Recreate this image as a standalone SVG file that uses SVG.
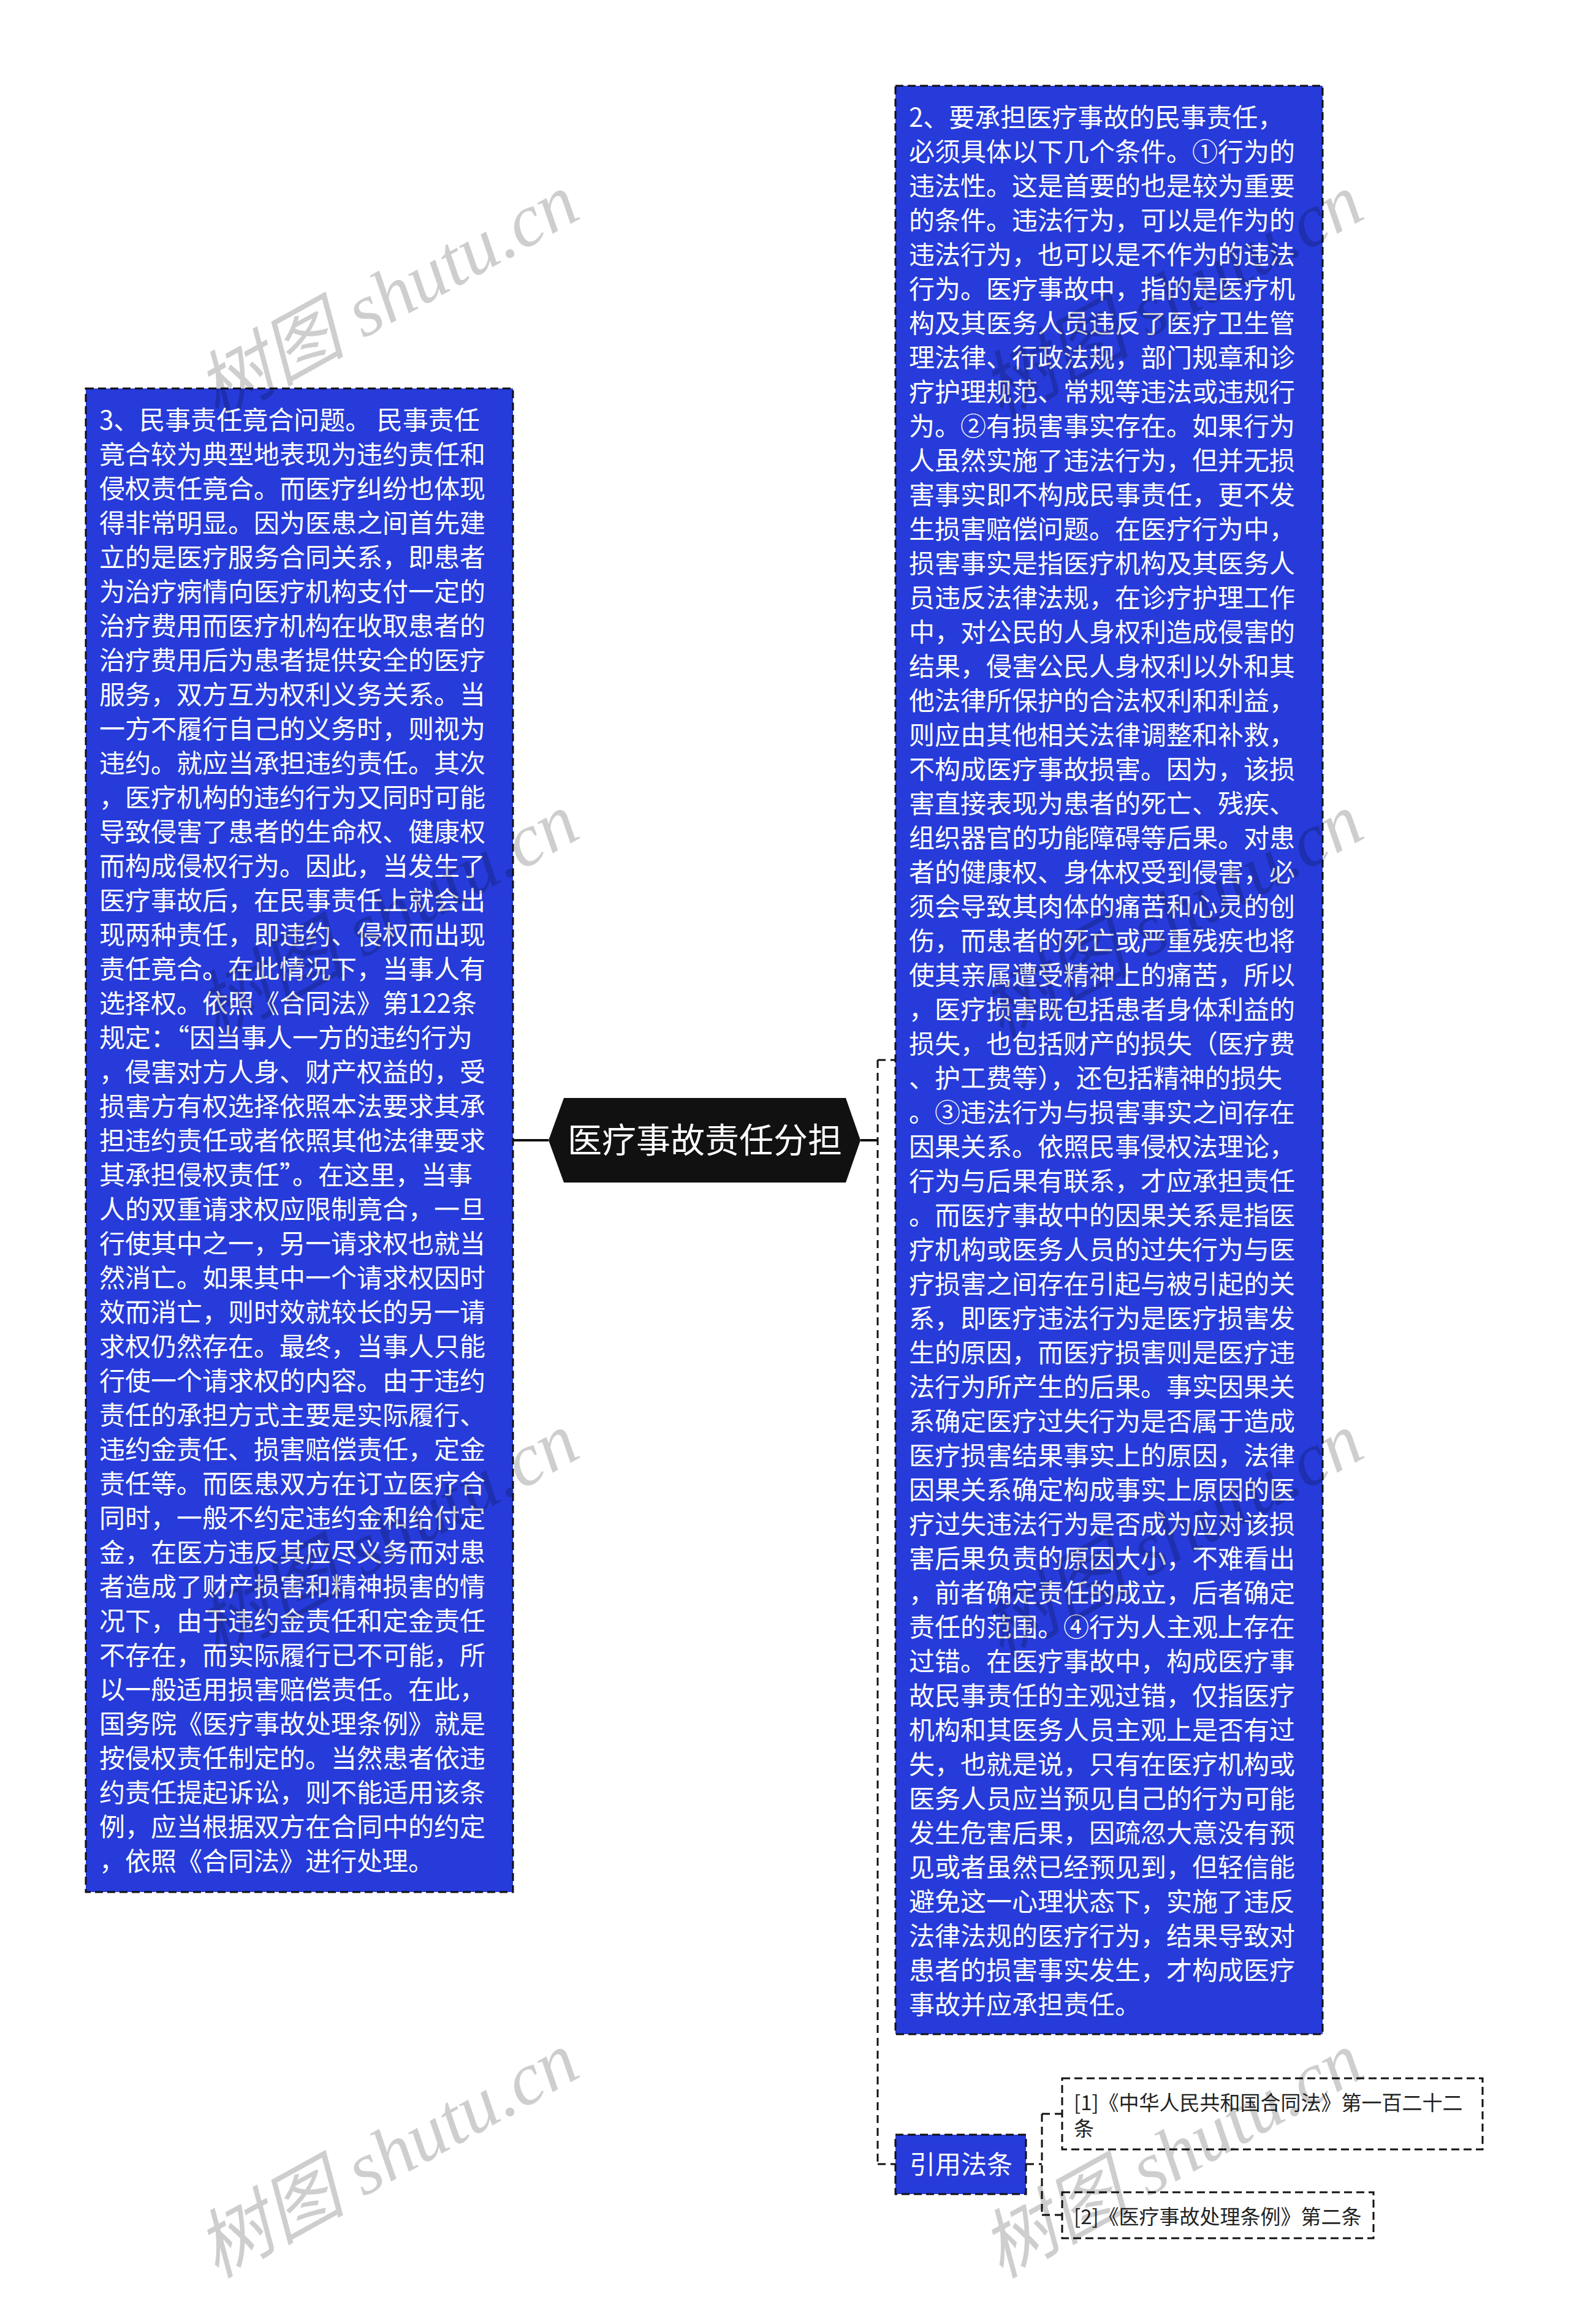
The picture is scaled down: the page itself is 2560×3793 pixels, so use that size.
<svg xmlns="http://www.w3.org/2000/svg" width="2560" height="3793" viewBox="0 0 2560 3793">
<style>
.bg{fill:#ffffff}
.blue{fill:#263bd9;stroke:#111;stroke-width:3;stroke-dasharray:13 7}
.ref{fill:#ffffff;stroke:#111;stroke-width:3;stroke-dasharray:13 7}
.root{fill:#111111}
.t{font-family:"Noto Sans CJK SC","Liberation Sans",sans-serif;fill:#ffffff;font-size:42px}
.rt{font-family:"Noto Sans CJK SC","Liberation Sans",sans-serif;fill:#ffffff;font-size:56px}
.rf{font-family:"Noto Sans CJK SC","Liberation Sans",sans-serif;fill:#222;font-size:33px}
.solid{stroke:#111;stroke-width:4;fill:none}
.dash{stroke:#111;stroke-width:3;fill:none;stroke-dasharray:13 8}
.wm{font-family:"Liberation Serif","Noto Sans CJK SC",serif;font-style:italic;font-size:122px;fill:#000;opacity:0.19}
</style>
<rect class="bg" x="0" y="0" width="2560" height="3793"/>
<g id="connectors">
<line class="solid" x1="837" y1="1861" x2="895" y2="1861"/>
<line class="solid" x1="1404" y1="1861" x2="1432" y2="1861"/>
<line class="dash" x1="1432" y1="1730" x2="1432" y2="3532"/>
<line class="dash" x1="1432" y1="1730" x2="1461" y2="1730"/>
<line class="dash" x1="1432" y1="3532" x2="1461" y2="3532"/>
<line class="dash" x1="1674" y1="3532" x2="1700" y2="3532"/>
<line class="dash" x1="1700" y1="3450" x2="1700" y2="3615"/>
<line class="dash" x1="1700" y1="3450" x2="1733" y2="3450"/>
<line class="dash" x1="1700" y1="3615" x2="1733" y2="3615"/>
</g>
<g id="root">
<polygon class="root" points="895,1861 920,1792 1380,1792 1404,1861 1380,1930 920,1930"/>
<text class="rt" x="1150" y="1881" text-anchor="middle">医疗事故责任分担</text>
</g>
<g id="node-left">
<rect class="blue" x="140" y="634" width="697" height="2454"/>
<text class="t">
<tspan x="162" y="701">3、民事责任竟合问题。 民事责任</tspan>
<tspan x="162" dy="56">竟合较为典型地表现为违约责任和</tspan>
<tspan x="162" dy="56">侵权责任竟合。而医疗纠纷也体现</tspan>
<tspan x="162" dy="56">得非常明显。因为医患之间首先建</tspan>
<tspan x="162" dy="56">立的是医疗服务合同关系，即患者</tspan>
<tspan x="162" dy="56">为治疗病情向医疗机构支付一定的</tspan>
<tspan x="162" dy="56">治疗费用而医疗机构在收取患者的</tspan>
<tspan x="162" dy="56">治疗费用后为患者提供安全的医疗</tspan>
<tspan x="162" dy="56">服务，双方互为权利义务关系。当</tspan>
<tspan x="162" dy="56">一方不履行自己的义务时，则视为</tspan>
<tspan x="162" dy="56">违约。就应当承担违约责任。其次</tspan>
<tspan x="162" dy="56">，医疗机构的违约行为又同时可能</tspan>
<tspan x="162" dy="56">导致侵害了患者的生命权、健康权</tspan>
<tspan x="162" dy="56">而构成侵权行为。因此，当发生了</tspan>
<tspan x="162" dy="56">医疗事故后，在民事责任上就会出</tspan>
<tspan x="162" dy="56">现两种责任，即违约、侵权而出现</tspan>
<tspan x="162" dy="56">责任竟合。在此情况下，当事人有</tspan>
<tspan x="162" dy="56">选择权。依照《合同法》第122条</tspan>
<tspan x="162" dy="56">规定：“因当事人一方的违约行为</tspan>
<tspan x="162" dy="56">，侵害对方人身、财产权益的，受</tspan>
<tspan x="162" dy="56">损害方有权选择依照本法要求其承</tspan>
<tspan x="162" dy="56">担违约责任或者依照其他法律要求</tspan>
<tspan x="162" dy="56">其承担侵权责任”。在这里，当事</tspan>
<tspan x="162" dy="56">人的双重请求权应限制竟合，一旦</tspan>
<tspan x="162" dy="56">行使其中之一，另一请求权也就当</tspan>
<tspan x="162" dy="56">然消亡。如果其中一个请求权因时</tspan>
<tspan x="162" dy="56">效而消亡，则时效就较长的另一请</tspan>
<tspan x="162" dy="56">求权仍然存在。最终，当事人只能</tspan>
<tspan x="162" dy="56">行使一个请求权的内容。由于违约</tspan>
<tspan x="162" dy="56">责任的承担方式主要是实际履行、</tspan>
<tspan x="162" dy="56">违约金责任、损害赔偿责任，定金</tspan>
<tspan x="162" dy="56">责任等。而医患双方在订立医疗合</tspan>
<tspan x="162" dy="56">同时，一般不约定违约金和给付定</tspan>
<tspan x="162" dy="56">金，在医方违反其应尽义务而对患</tspan>
<tspan x="162" dy="56">者造成了财产损害和精神损害的情</tspan>
<tspan x="162" dy="56">况下，由于违约金责任和定金责任</tspan>
<tspan x="162" dy="56">不存在，而实际履行已不可能，所</tspan>
<tspan x="162" dy="56">以一般适用损害赔偿责任。在此，</tspan>
<tspan x="162" dy="56">国务院《医疗事故处理条例》就是</tspan>
<tspan x="162" dy="56">按侵权责任制定的。当然患者依违</tspan>
<tspan x="162" dy="56">约责任提起诉讼，则不能适用该条</tspan>
<tspan x="162" dy="56">例，应当根据双方在合同中的约定</tspan>
<tspan x="162" dy="56">，依照《合同法》进行处理。</tspan>
</text>
</g>
<g id="node-right">
<rect class="blue" x="1461" y="140" width="697" height="3180"/>
<text class="t">
<tspan x="1483" y="207">2、要承担医疗事故的民事责任，</tspan>
<tspan x="1483" dy="56">必须具体以下几个条件。①行为的</tspan>
<tspan x="1483" dy="56">违法性。这是首要的也是较为重要</tspan>
<tspan x="1483" dy="56">的条件。违法行为，可以是作为的</tspan>
<tspan x="1483" dy="56">违法行为，也可以是不作为的违法</tspan>
<tspan x="1483" dy="56">行为。医疗事故中，指的是医疗机</tspan>
<tspan x="1483" dy="56">构及其医务人员违反了医疗卫生管</tspan>
<tspan x="1483" dy="56">理法律、行政法规，部门规章和诊</tspan>
<tspan x="1483" dy="56">疗护理规范、常规等违法或违规行</tspan>
<tspan x="1483" dy="56">为。②有损害事实存在。如果行为</tspan>
<tspan x="1483" dy="56">人虽然实施了违法行为，但并无损</tspan>
<tspan x="1483" dy="56">害事实即不构成民事责任，更不发</tspan>
<tspan x="1483" dy="56">生损害赔偿问题。在医疗行为中，</tspan>
<tspan x="1483" dy="56">损害事实是指医疗机构及其医务人</tspan>
<tspan x="1483" dy="56">员违反法律法规，在诊疗护理工作</tspan>
<tspan x="1483" dy="56">中，对公民的人身权利造成侵害的</tspan>
<tspan x="1483" dy="56">结果，侵害公民人身权利以外和其</tspan>
<tspan x="1483" dy="56">他法律所保护的合法权利和利益，</tspan>
<tspan x="1483" dy="56">则应由其他相关法律调整和补救，</tspan>
<tspan x="1483" dy="56">不构成医疗事故损害。因为，该损</tspan>
<tspan x="1483" dy="56">害直接表现为患者的死亡、残疾、</tspan>
<tspan x="1483" dy="56">组织器官的功能障碍等后果。对患</tspan>
<tspan x="1483" dy="56">者的健康权、身体权受到侵害，必</tspan>
<tspan x="1483" dy="56">须会导致其肉体的痛苦和心灵的创</tspan>
<tspan x="1483" dy="56">伤，而患者的死亡或严重残疾也将</tspan>
<tspan x="1483" dy="56">使其亲属遭受精神上的痛苦，所以</tspan>
<tspan x="1483" dy="56">，医疗损害既包括患者身体利益的</tspan>
<tspan x="1483" dy="56">损失，也包括财产的损失（医疗费</tspan>
<tspan x="1483" dy="56">、护工费等），还包括精神的损失</tspan>
<tspan x="1483" dy="56">。③违法行为与损害事实之间存在</tspan>
<tspan x="1483" dy="56">因果关系。依照民事侵权法理论，</tspan>
<tspan x="1483" dy="56">行为与后果有联系，才应承担责任</tspan>
<tspan x="1483" dy="56">。而医疗事故中的因果关系是指医</tspan>
<tspan x="1483" dy="56">疗机构或医务人员的过失行为与医</tspan>
<tspan x="1483" dy="56">疗损害之间存在引起与被引起的关</tspan>
<tspan x="1483" dy="56">系，即医疗违法行为是医疗损害发</tspan>
<tspan x="1483" dy="56">生的原因，而医疗损害则是医疗违</tspan>
<tspan x="1483" dy="56">法行为所产生的后果。事实因果关</tspan>
<tspan x="1483" dy="56">系确定医疗过失行为是否属于造成</tspan>
<tspan x="1483" dy="56">医疗损害结果事实上的原因，法律</tspan>
<tspan x="1483" dy="56">因果关系确定构成事实上原因的医</tspan>
<tspan x="1483" dy="56">疗过失违法行为是否成为应对该损</tspan>
<tspan x="1483" dy="56">害后果负责的原因大小，不难看出</tspan>
<tspan x="1483" dy="56">，前者确定责任的成立，后者确定</tspan>
<tspan x="1483" dy="56">责任的范围。④行为人主观上存在</tspan>
<tspan x="1483" dy="56">过错。在医疗事故中，构成医疗事</tspan>
<tspan x="1483" dy="56">故民事责任的主观过错，仅指医疗</tspan>
<tspan x="1483" dy="56">机构和其医务人员主观上是否有过</tspan>
<tspan x="1483" dy="56">失，也就是说，只有在医疗机构或</tspan>
<tspan x="1483" dy="56">医务人员应当预见自己的行为可能</tspan>
<tspan x="1483" dy="56">发生危害后果，因疏忽大意没有预</tspan>
<tspan x="1483" dy="56">见或者虽然已经预见到，但轻信能</tspan>
<tspan x="1483" dy="56">避免这一心理状态下，实施了违反</tspan>
<tspan x="1483" dy="56">法律法规的医疗行为，结果导致对</tspan>
<tspan x="1483" dy="56">患者的损害事实发生，才构成医疗</tspan>
<tspan x="1483" dy="56">事故并应承担责任。</tspan>
</text>
</g>
<g id="node-cite">
<rect class="blue" x="1461" y="3484" width="213" height="97"/>
<text class="t" x="1568" y="3548" text-anchor="middle">引用法条</text>
</g>
<g id="ref-1">
<rect class="ref" x="1733" y="3392" width="686" height="116"/>
<text class="rf"><tspan x="1752" y="3444">[1]《中华人民共和国合同法》第一百二十二</tspan><tspan x="1752" y="3486">条</tspan></text>
</g>
<g id="ref-2">
<rect class="ref" x="1733" y="3578" width="508" height="75"/>
<text class="rf" x="1752" y="3630">[2]《医疗事故处理条例》第二条</text>
</g>
<g id="watermark">
<text class="wm" transform="translate(652,520) rotate(-29)" text-anchor="middle">树图 shutu.cn</text>
<text class="wm" transform="translate(652,1531) rotate(-29)" text-anchor="middle">树图 shutu.cn</text>
<text class="wm" transform="translate(652,2542) rotate(-29)" text-anchor="middle">树图 shutu.cn</text>
<text class="wm" transform="translate(652,3553) rotate(-29)" text-anchor="middle">树图 shutu.cn</text>
<text class="wm" transform="translate(1932,520) rotate(-29)" text-anchor="middle">树图 shutu.cn</text>
<text class="wm" transform="translate(1932,1531) rotate(-29)" text-anchor="middle">树图 shutu.cn</text>
<text class="wm" transform="translate(1932,2542) rotate(-29)" text-anchor="middle">树图 shutu.cn</text>
<text class="wm" transform="translate(1932,3553) rotate(-29)" text-anchor="middle">树图 shutu.cn</text>
</g>
</svg>
